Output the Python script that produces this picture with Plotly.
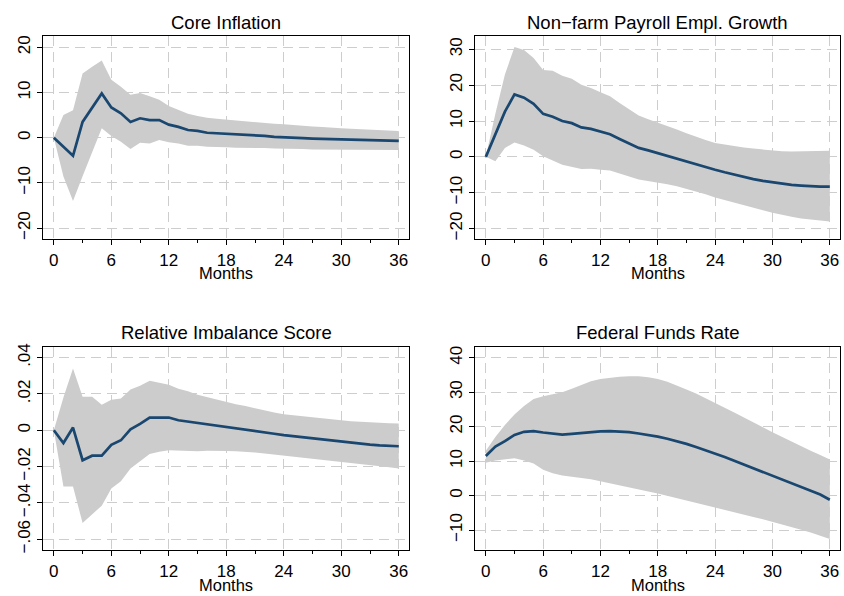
import plotly.graph_objects as go

months = list(range(37))

# Panel 1: Core Inflation
core_irf = [0, -2.0, -4.0, 3.5, 6.8, 9.8, 6.7, 5.4, 3.5, 4.3, 3.9, 3.9, 2.9, 2.4, 1.7, 1.5, 1.1, 1.0, 0.8, 0.8,
            0.7, 0.6, 0.4, 0.2, 0.05, -0.05, -0.1, -0.2, -0.25, -0.35, -0.4, -0.45, -0.5, -0.55, -0.6, -0.65, -0.7]
core_hi = [0, 5.0, 6.1, 14.2, 15.7, 17.1, 12.8, 11.3, 9.5, 9.9, 9.2, 8.4, 7.0, 6.2, 5.3, 4.8, 4.4, 4.2, 4.0, 3.8,
           3.6, 3.5, 3.3, 3.1, 3.0, 2.8, 2.7, 2.5, 2.4, 2.2, 2.1, 2.0, 1.9, 1.8, 1.7, 1.6, 1.5]
core_lo = [0, -8.6, -14.0, -8.5, -3.0, 2.1, 0.4, -0.9, -2.5, -1.1, -1.3, -0.5, -1.0, -1.3, -1.8, -1.8, -2.0, -2.1, -2.1, -2.2,
           -2.2, -2.3, -2.3, -2.4, -2.4, -2.5, -2.5, -2.6, -2.6, -2.6, -2.6, -2.6, -2.7, -2.7, -2.7, -2.7, -2.7]

# Panel 2: Non-farm Payroll Empl. Growth
nfp_irf = [0, 6.4, 12.6, 17.4, 16.5, 14.8, 12.0, 11.2, 10.0, 9.4, 8.2, 7.8, 7.0, 6.3, 5.0, 3.8, 2.5, 1.8, 1.0, 0.4,
           -0.4, -1.2, -2.0, -2.8, -3.6, -4.3, -5.0, -5.6, -6.2, -6.7, -7.1, -7.5, -7.8, -8.0, -8.2, -8.3, -8.3]
nfp_hi = [0, 12.0, 23.0, 30.6, 29.8, 27.6, 24.2, 24.0, 22.6, 21.8, 20.1, 19.2, 18.0, 16.9, 15.0, 13.2, 11.5, 10.5, 9.6, 8.6,
          7.6, 6.6, 5.6, 4.7, 3.9, 3.4, 3.0, 2.6, 2.3, 2.0, 1.8, 1.6, 1.5, 1.5, 1.5, 1.6, 1.7]
nfp_lo = [0, -1.2, 2.5, 4.0, 3.2, 2.0, 0.2, -1.0, -2.2, -2.8, -3.4, -3.3, -3.6, -3.8, -4.6, -5.5, -6.3, -6.8, -7.2, -7.6,
          -8.2, -8.9, -9.6, -10.4, -11.3, -12.0, -12.8, -13.5, -14.2, -14.9, -15.6, -16.2, -16.7, -17.2, -17.5, -17.8, -18.0]

# Panel 3: Relative Imbalance Score
ris_irf = [0, -0.007, 0.0015, -0.0165, -0.014, -0.014, -0.008, -0.0055, 0.0005, 0.0035, 0.007, 0.007, 0.007, 0.0055, 0.0048,
           0.0038, 0.0033, 0.0025, 0.002, 0.0013, 0.0006, -0.0003, -0.0011, -0.0019, -0.0027, -0.0033, -0.0039, -0.0045,
           -0.0052, -0.0058, -0.0064, -0.007, -0.0075, -0.0079, -0.0083, -0.0086, -0.0088]
ris_hi = [0, 0.018, 0.034, 0.0185, 0.0185, 0.014, 0.0168, 0.0175, 0.0225, 0.0245, 0.0273, 0.0262, 0.025, 0.0228, 0.0215,
          0.0195, 0.0182, 0.0166, 0.0156, 0.0143, 0.0133, 0.012, 0.0108, 0.0098, 0.0088, 0.0082, 0.0076, 0.007, 0.0065,
          0.006, 0.0055, 0.005, 0.0046, 0.0043, 0.004, 0.0038, 0.0037]
ris_lo = [0, -0.031, -0.031, -0.051, -0.046, -0.0415, -0.032, -0.028, -0.021, -0.017, -0.013, -0.0118, -0.011, -0.0112,
          -0.0113, -0.0115, -0.0113, -0.0112, -0.0114, -0.0116, -0.0118, -0.0123, -0.0128, -0.0133, -0.0138, -0.0143,
          -0.0148, -0.0154, -0.016, -0.0166, -0.0173, -0.018, -0.0186, -0.0192, -0.0198, -0.0204, -0.021]

# Panel 4: Federal Funds Rate
ffr_irf = [11.5, 14.2, 15.8, 17.6, 18.5, 18.7, 18.3, 17.9, 17.7, 17.9, 18.2, 18.5, 18.6, 18.7, 18.6, 18.4, 18.0, 17.6, 17.1,
           16.5, 15.8, 15.0, 14.1, 13.2, 12.2, 11.2, 10.1, 9.0, 7.9, 6.8, 5.7, 4.6, 3.5, 2.5, 1.4, 0.3, -1.2]
ffr_hi = [13.0, 17.0, 20.5, 23.5, 26.0, 28.0, 28.8, 29.3, 30.0, 31.0, 32.2, 33.2, 33.8, 34.2, 34.5, 34.6, 34.6, 34.3, 33.8,
          33.0, 32.0, 30.8, 29.6, 28.3, 27.0, 25.5, 24.1, 22.6, 21.2, 19.8, 18.4, 17.0, 15.6, 14.3, 13.0, 11.8, 10.5]
ffr_lo = [9.5, 10.2, 10.5, 10.8, 10.2, 9.3, 7.5, 6.5, 5.8, 5.5, 5.1, 4.7, 4.2, 3.6, 3.0, 2.4, 1.8, 1.2, 0.6, 0.0,
          -0.7, -1.4, -2.1, -2.8, -3.4, -4.1, -4.8, -5.5, -6.2, -6.9, -7.6, -8.3, -9.1, -9.9, -10.7, -11.6, -12.6]

titles = ["Core Inflation", "Non\u2212farm Payroll Empl. Growth", "Relative Imbalance Score", "Federal Funds Rate"]
x_ticks = [0, 6, 12, 18, 24, 30, 36]
x_minor_ticks = [3, 9, 15, 21, 27, 33]
y_ticks = [
    [20, 10, 0, -10, -20],
    [30, 20, 10, 0, -10, -20],
    [0.04, 0.02, 0, -0.02, -0.04, -0.06],
    [40, 30, 20, 10, 0, -10],
]
y_ticktext = [
    ["20", "10", "0", "\u221210", "\u221220"],
    ["30", "20", "10", "0", "\u221210", "\u221220"],
    [".04", ".02", "0", "\u2212.02", "\u2212.04", "\u2212.06"],
    ["40", "30", "20", "10", "0", "\u221210"],
]
y_ranges = [[-22.4, 22.5], [-22.9, 33.7], [-0.0659, 0.046], [-15.8, 43.2]]

series = [(core_irf, core_hi, core_lo), (nfp_irf, nfp_hi, nfp_lo), (ris_irf, ris_hi, ris_lo), (ffr_irf, ffr_hi, ffr_lo)]

W, H = 844, 596
# panel frames in pixels (left, right, top, bottom)
frames = [(43.3, 409.3, 36, 239), (475.3, 840.3, 36, 239),
          (43.3, 409.3, 346.7, 550), (475.3, 840.3, 346.7, 550)]

FONT = "Liberation Sans, Arial, Helvetica, sans-serif"
LINE_COLOR = "#1a476f"
BAND_COLOR = "#cccccc"
GRID_COLOR = "#cdcdcd"
GRID_DASH = "10px,6px"

fig = go.Figure()
layout = dict(
    template="none",
    width=W, height=H,
    margin=dict(l=0, r=0, t=0, b=0),
    paper_bgcolor="white", plot_bgcolor="rgba(0,0,0,0)",
    showlegend=False,
    font=dict(family=FONT, size=17, color="black"),
    annotations=[],
)

for i, (irf, hi, lo) in enumerate(series):
    n = "" if i == 0 else str(i + 1)
    xa, ya = "x" + n, "y" + n
    fig.add_trace(go.Scatter(
        x=months + months[::-1], y=hi + lo[::-1],
        fill="toself", fillcolor=BAND_COLOR, line=dict(width=0, color=BAND_COLOR),
        mode="lines", hoverinfo="skip", xaxis=xa, yaxis=ya))
    fig.add_trace(go.Scatter(
        x=months, y=irf, mode="lines",
        line=dict(color=LINE_COLOR, width=2.7), xaxis=xa, yaxis=ya))
    l, r, t, b = frames[i]
    layout["xaxis" + n] = dict(
        domain=[l / W, r / W], anchor=ya, range=[-1.1, 37.1],
        tickmode="array", tickvals=x_ticks, ticktext=[str(v) for v in x_ticks],
        ticks="outside", ticklen=5, tickwidth=1, tickcolor="black",
        showgrid=True, gridcolor=GRID_COLOR, griddash=GRID_DASH, gridwidth=1,
        zeroline=False, showline=True, linecolor="black", linewidth=1.2, mirror=True,
        tickfont=dict(size=17, family=FONT, color="black"),
        minor=dict(tickmode="array", tickvals=x_minor_ticks, ticks="outside", ticklen=3,
                   tickcolor="black", showgrid=False),
        layer="above traces",
    )
    layout["yaxis" + n] = dict(
        domain=[1 - b / H, 1 - t / H], anchor=xa, range=y_ranges[i],
        tickmode="array", tickvals=y_ticks[i], ticktext=y_ticktext[i], tickangle=-90,
        ticks="outside", ticklen=5, tickwidth=1, tickcolor="black",
        showgrid=True, gridcolor=GRID_COLOR, griddash=GRID_DASH, gridwidth=1,
        zeroline=False, showline=True, linecolor="black", linewidth=1.2, mirror=True,
        tickfont=dict(size=17, family=FONT, color="black"),
        layer="above traces",
    )
    cx = (l + r) / 2 / W
    layout["annotations"].append(dict(
        text=titles[i], x=cx, y=1 - (t - 14) / H, xref="paper", yref="paper",
        xanchor="center", yanchor="middle", showarrow=False,
        font=dict(size=18.5, family=FONT, color="black")))
    layout["annotations"].append(dict(
        text="Months", x=cx, y=1 - (b + 34.5) / H, xref="paper", yref="paper",
        xanchor="center", yanchor="middle", showarrow=False,
        font=dict(size=16.5, family=FONT, color="black")))

fig.update_layout(**layout)
fig.write_html("out.html")
